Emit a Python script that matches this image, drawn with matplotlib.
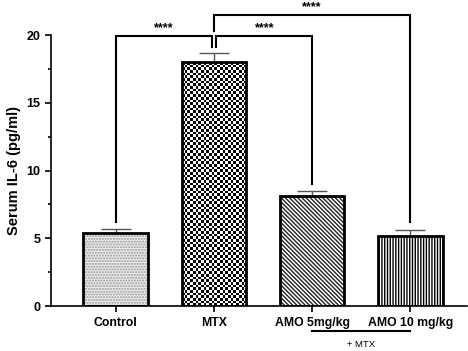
import numpy as np
import matplotlib.pyplot as plt
from matplotlib.ticker import MultipleLocator

plt.rcParams["font.family"] = "Liberation Sans"

groups = ["Control", "MTX", "AMO 5mg/kg", "AMO 10 mg/kg"]
means = [5.4, 18.0, 8.1, 5.2]
errs = [0.28, 0.7, 0.42, 0.42]
# (group a, group b, bracket height, leg end a, leg end b, label)
comparisons = [
    (0, 1, 19.9, 6.2, 19.1, "****"),
    (1, 2, 19.9, 19.1, 9.0, "****"),
    (1, 3, 21.5, 20.3, 6.2, "****"),
]

fig = plt.figure(figsize=(4.68, 3.51), dpi=100)
ax = fig.add_axes([0.109, 0.128, 0.889, 0.772])

x = np.arange(len(groups))
w = 0.66

# fill patterns
ax.bar(x[0], means[0], w, color="#ebebeb", hatch="......", edgecolor="#999999", linewidth=0, zorder=1)
mtx_bg = ax.bar(x[1], means[1], w, color="white", linewidth=0, zorder=1)
ax.bar(x[2], means[2], w, color="white", hatch="\\" * 8, edgecolor="#222222", linewidth=0, zorder=1)
ax.bar(x[3], means[3], w, color="white", hatch="|" * 6, edgecolor="black", linewidth=0, zorder=1)

# checkerboard for MTX
patch = mtx_bg.patches[0]
ncol = 24
nrow = int(round(ncol * (means[1] * 13.55) / (w * 98)))
checker = (np.indices((nrow, ncol)).sum(axis=0) % 2)
img = ax.imshow(checker, cmap="gray", extent=(x[1] - w / 2, x[1] + w / 2, 0, means[1]),
                aspect="auto", interpolation="nearest", zorder=1.5)
img.set_clip_path(patch)

# outlines
ax.bar(x, means, w, fill=False, edgecolor="black", linewidth=2.0, zorder=3)
ax.errorbar(x, means, yerr=[[0] * 4, errs], fmt="none", ecolor="#555555",
            elinewidth=1.0, capsize=11, capthick=1.0, zorder=2.5)

ax.set_xlim(-0.66, 3.58)
ax.set_ylim(0, 20)

# significance brackets
offs = {(0, 1): (0, -0.015), (1, 2): (0.025, 0), (1, 3): (0.0, 0)}
for a, b, h, la, lb, lab in comparisons:
    xa = x[a] + offs[(a, b)][0]
    xb = x[b] + offs[(a, b)][1]
    ax.plot([xa, xa, xb, xb], [la, h, h, lb], color="black", lw=1.5,
            clip_on=False, zorder=4, solid_joinstyle="miter")
    ax.text((xa + xb) / 2, h + 0.15, lab, ha="center", va="bottom",
            fontsize=9, fontweight="bold")

# + MTX line
ax.plot([x[2], x[3]], [-1.85, -1.85], color="black", lw=1.5, clip_on=False)
ax.text((x[2] + x[3]) / 2, -2.85, "+ MTX", ha="center", va="center", fontsize=6.8)

ax.spines["top"].set_visible(False)
ax.spines["right"].set_visible(False)
ax.spines["left"].set_linewidth(1.2)
ax.spines["bottom"].set_linewidth(1.2)
ax.yaxis.set_major_locator(MultipleLocator(5))
ax.yaxis.set_minor_locator(MultipleLocator(2.5))
ax.tick_params(axis="y", which="major", length=4, width=1.2, labelsize=9)
ax.tick_params(axis="y", which="minor", length=2.5, width=1.2)
ax.tick_params(axis="x", length=4, width=1.2, labelsize=8.8, pad=4)
ax.set_xticks(x)
ax.set_xticklabels(groups, fontweight="bold")
for t in ax.get_yticklabels():
    t.set_fontweight("bold")
ax.set_ylabel("Serum IL-6 (pg/ml)", fontsize=10.5, fontweight="bold", labelpad=4)

fig.savefig("out.png", dpi=100)
